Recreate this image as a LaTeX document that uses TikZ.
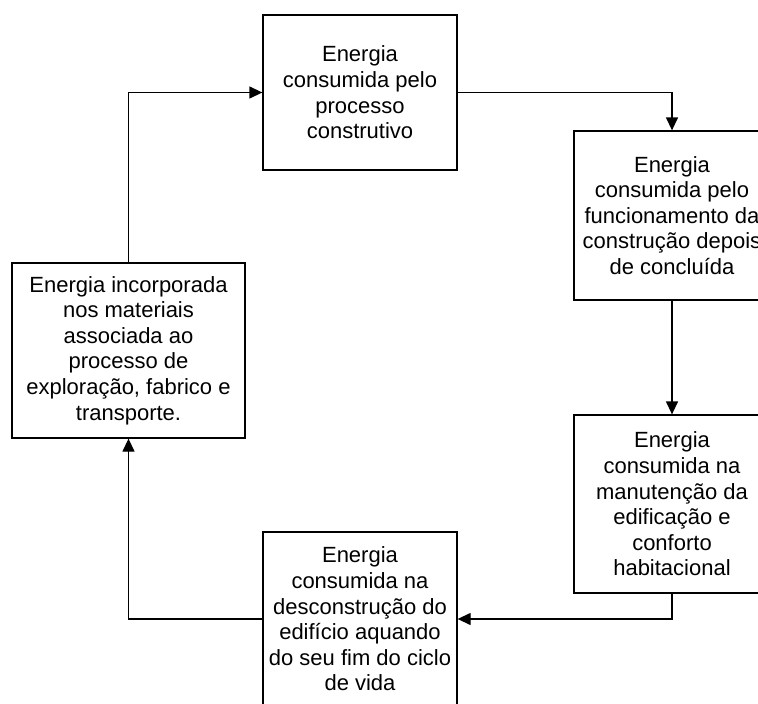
\documentclass[tikz,border=0pt]{standalone}
\usepackage{fontspec}
\setmainfont{Liberation Sans}
\usetikzlibrary{shapes,arrows,arrows.meta,positioning}

\tikzset{caixa/.style={draw,line width=1.3pt,align=center,inner sep=0pt,font=\fontsize{22}{25.6}\selectfont},
  seta/.style={line width=1.3pt,-{Triangle[length=13pt,width=12pt]}}}

\begin{document}
\begin{tikzpicture}[x=1pt,y=-1pt]
  \useasboundingbox (0,0) rectangle (758,704);
  \node[caixa,minimum width=194,minimum height=155] (construcao) at (360,92.5)
    {Energia\\consumida pelo\\processo\\construtivo};
  \node[caixa,minimum width=196,minimum height=169] (funcionamento) at (672,215.5)
    {Energia\\consumida pelo\\funcionamento da\\construção depois\\de concluída};
  \node[caixa,minimum width=196,minimum height=178] (manutencao) at (672,504)
    {Energia\\consumida na\\manutenção da\\edificação e\\conforto\\habitacional};
  \node[caixa,minimum width=194,minimum height=174] (desconstrucao) at (360,619)
    {Energia\\consumida na\\desconstrução do\\edifício aquando\\do seu fim do ciclo\\de vida};
  \node[caixa,minimum width=233,minimum height=175] (materiais) at (128.5,350.5)
    {Energia incorporada\\nos materiais\\associada ao\\processo de\\exploração, fabrico e\\transporte.};

  \draw[seta] (construcao.east) -| (funcionamento.north);
  \draw[seta] (funcionamento.south) -- (manutencao.north);
  \draw[seta] (manutencao.south) |- (desconstrucao.east);
  \draw[seta] (desconstrucao.west) -| (materiais.south);
  \draw[seta] (materiais.north) |- (construcao.west);
\end{tikzpicture}
\end{document}
